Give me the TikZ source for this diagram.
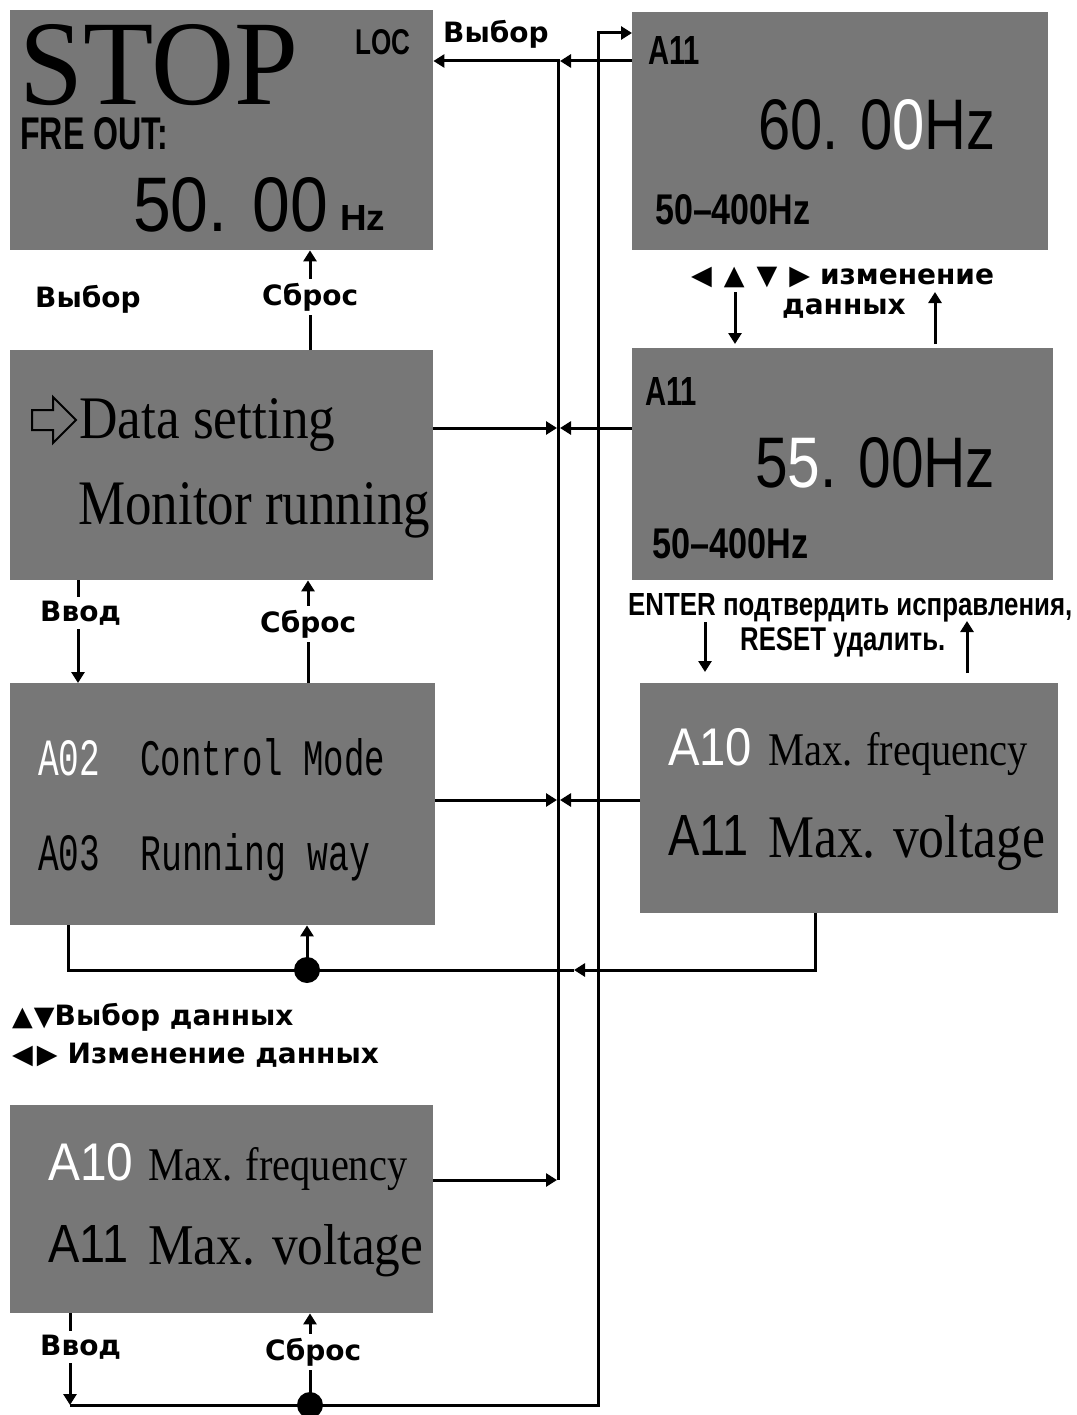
\documentclass[tikz,border=0pt]{standalone}
\usepackage{fontspec}
\setmainfont{Liberation Sans}
\newfontfamily\lcdserif{Liberation Serif}
\newfontfamily\lcdmono{Liberation Mono}
\newfontfamily\lblfont{DejaVu Sans}
\usetikzlibrary{arrows.meta}
\definecolor{lcdgray}{RGB}{119,119,119}
\newcommand{\fitbox}[3]{\raisebox{0pt}[\height][0pt]{\resizebox{#1pt}{#2pt}{#3}}}
\newcommand{\keys}[1]{{\fontsize{27}{29}\selectfont #1}}

\tikzset{
  lcd/.style={rectangle, fill=lcdgray, inner sep=0pt, anchor=north west},
  txt/.style={inner sep=0pt, anchor=base west},
  wire/.style={line width=3pt},
  tip/.style={-{Triangle[length=11pt,width=13pt]}},
  lbl/.style={inner sep=0pt, anchor=base west, font=\lblfont\bfseries\fontsize{28}{30}\selectfont},
  cut/.style={lbl, fill=white, inner sep=4pt},
}

\begin{document}
\begin{tikzpicture}[x=1pt, y=-1pt]
  \useasboundingbox (0,0) rectangle (1076,1415);
  % stop screen
  \node[lcd, minimum width=423pt, minimum height=240pt] (stop) at (10,10) {};
  \node[txt] (stopT) at (19,105) {\fitbox{279}{80}{\lcdserif STOP}};
  \node[txt] (loc) at (355,55) {\fitbox{55}{25}{\bfseries LOC}};
  \node[txt] (fre) at (20,150) {\fitbox{148}{32}{\bfseries FRE OUT:}};
  \node[txt] (freV) at (133,232) {\fitbox{195}{54}{50. 00}};
  \node[txt] (freU) at (340,230) {\fitbox{45}{25}{\bfseries Hz}};
  % setting screen, upper
  \node[lcd, minimum width=416pt, minimum height=238pt] (setA) at (632,12) {};
  \node[txt] (setAn) at (648,65) {\fitbox{52}{28}{\bfseries A11}};
  \node[txt] (setAv) at (758,150) {\fitbox{237}{50}{60. 0\textcolor{white}{0}Hz}};
  \node[txt] (setAr) at (655,225) {\fitbox{155}{30}{\bfseries 50--400Hz}};
  % data menu
  \node[lcd, minimum width=423pt, minimum height=230pt] (data) at (10,350) {};
  \draw[line width=2pt] (32,410) -- (53,410) -- (53,397) -- (76,420) -- (53,443) -- (53,430) -- (32,430) -- cycle;
  \node[txt] (dsT) at (79,438) {\fitbox{256}{40}{\lcdserif Data setting}};
  \node[txt] (mrT) at (78,524) {\fitbox{352}{42}{\lcdserif Monitor running}};
  % setting screen, lower
  \node[lcd, minimum width=421pt, minimum height=232pt] (setB) at (632,348) {};
  \node[txt] (setBn) at (645,405) {\fitbox{52}{28}{\bfseries A11}};
  \node[txt] (setBv) at (755,487) {\fitbox{240}{50}{5\textcolor{white}{5}. 00Hz}};
  \node[txt] (setBr) at (652,558) {\fitbox{156}{30}{\bfseries 50--400Hz}};
  % parameter menu
  \node[lcd, minimum width=425pt, minimum height=242pt] (menu) at (10,683) {};
  \node[txt] (menuA) at (38,775) {\fitbox{62}{35}{\lcdmono\color{white}A02}};
  \node[txt] (menuAt) at (140,775) {\fitbox{245}{37}{\lcdmono Control Mode}};
  \node[txt] (menuB) at (38,870) {\fitbox{62}{35}{\lcdmono A03}};
  \node[txt] (menuBt) at (140,870) {\fitbox{230}{37}{\lcdmono Running way}};
  % parameter list, right
  \node[lcd, minimum width=418pt, minimum height=230pt] (parR) at (640,683) {};
  \node[txt] (parRa) at (668,765) {\fitbox{84}{37}{\color{white}A10}};
  \node[txt] (parRat) at (768,765) {\fitbox{260}{33}{\lcdserif Max. frequency}};
  \node[txt] (parRb) at (668,855) {\fitbox{80}{40}{A11}};
  \node[txt] (parRbt) at (768,857) {\fitbox{277}{42}{\lcdserif Max. voltage}};
  % parameter list, lower
  \node[lcd, minimum width=423pt, minimum height=208pt] (parL) at (10,1105) {};
  \node[txt] (parLa) at (48,1180) {\fitbox{85}{37}{\color{white}A10}};
  \node[txt] (parLat) at (148,1180) {\fitbox{259}{33}{\lcdserif Max. frequency}};
  \node[txt] (parLb) at (48,1262) {\fitbox{80}{37}{A11}};
  \node[txt] (parLbt) at (148,1264) {\fitbox{275}{40}{\lcdserif Max. voltage}};

  % buses and rows
  \coordinate (busL) at (558,0);
  \coordinate (busLw) at (557,0);
  \coordinate (busLe) at (560,0);
  \coordinate (busR) at (598,0);
  \coordinate (yTop) at (0,33);
  \coordinate (ySel) at (0,61);
  \coordinate (yDS) at (0,428);
  \coordinate (yPM) at (0,800);
  \coordinate (yPL) at (0,1180);
  \coordinate (yBot) at (0,1405);
  \draw[wire,tip] (busL |- yPL) -- (busL |- ySel) -- (stop.east |- ySel);
  \draw[wire,tip] (setA.west |- ySel) -- (busLe |- ySel);
  \draw[wire,tip] (data.east |- yDS) -- (busLw |- yDS);
  \draw[wire,tip] (setB.west |- yDS) -- (busLe |- yDS);
  \draw[wire,tip] (menu.east |- yPM) -- (busLw |- yPM);
  \draw[wire,tip] (parR.west |- yPM) -- (busLe |- yPM);
  \draw[wire,tip] (parL.east |- yPL) -- (busLw |- yPL);

  % return loop under the menu
  \coordinate (dotA) at (307,970);
  \coordinate (midA) at (574,970);
  \coordinate (loopR) at (815,970);
  \coordinate (loopL) at (68,970);
  \draw[wire,tip] (loopR |- parR.south) |- (midA);
  \draw[wire] (midA) -- (loopL) -- (loopL |- menu.south);
  \draw[wire,tip] (dotA) -- (dotA |- menu.south);
  \fill (dotA) circle (13pt);

  % bottom loop
  \coordinate (entB) at (70,1405);
  \coordinate (dotB) at (310,1405);
  \draw[wire,tip] (entB |- parL.south) -- (entB);
  \draw[wire,tip] (entB) -- (busR |- yBot) -- (busR |- yTop) -- (setA.west |- yTop);
  \draw[wire,tip] (dotB) -- (dotB |- parL.south);
  \fill (dotB) circle (13pt);

  % left column
  \coordinate (rstS) at (310,0);
  \coordinate (rstD) at (308,0);
  \coordinate (entD) at (78,0);
  \draw[wire,tip] (rstS |- data.north) -- (rstS |- stop.south);
  \draw[wire,tip] (entD |- data.south) -- (entD |- menu.north);
  \draw[wire,tip] (rstD |- menu.north) -- (rstD |- data.south);

  % right column
  \coordinate (chgD) at (735,292);
  \coordinate (chgU) at (935,344);
  \coordinate (okD) at (705,622);
  \coordinate (okU) at (967,673);
  \draw[wire,tip] (chgD) -- ++(0,52);
  \draw[wire,tip] (chgU) -- ++(0,-52);
  \draw[wire,tip] (okD) -- ++(0,50);
  \draw[wire,tip] (okU) -- ++(0,-52);

  % labels
  \node[lbl] (selT) at (443,43) {Выбор};
  \node[lbl] (selL) at (35,307) {Выбор};
  \node[cut] (rstT) at (258,305) {Сброс};
  \node[cut] (entM) at (36,621) {Ввод};
  \node[cut] (rstM) at (256,632) {Сброс};
  \node[lbl] (chgT) at (691,284) {\keys{◀\hspace{12pt}▲\hspace{12pt}▼\hspace{12pt}▶} изменение};
  \node[lbl] (chgT2) at (782,314) {данных};
  \node[txt] (okT) at (628,615) {\fitbox{444}{22}{\bfseries ENTER подтвердить исправления,}};
  \node[txt] (okT2) at (740,650) {\fitbox{205}{23}{\bfseries RESET удалить.}};
  \node[lbl] (keyT) at (12,1025) {\keys{▲\hspace{1pt}▼}Выбор данных};
  \node[lbl] (keyT2) at (12,1063) {\keys{◀\hspace{4pt}▶}\hspace{10pt}Изменение данных};
  \node[cut] (entL) at (36,1355) {Ввод};
  \node[cut] (rstL) at (261,1360) {Сброс};
\end{tikzpicture}
\end{document}
